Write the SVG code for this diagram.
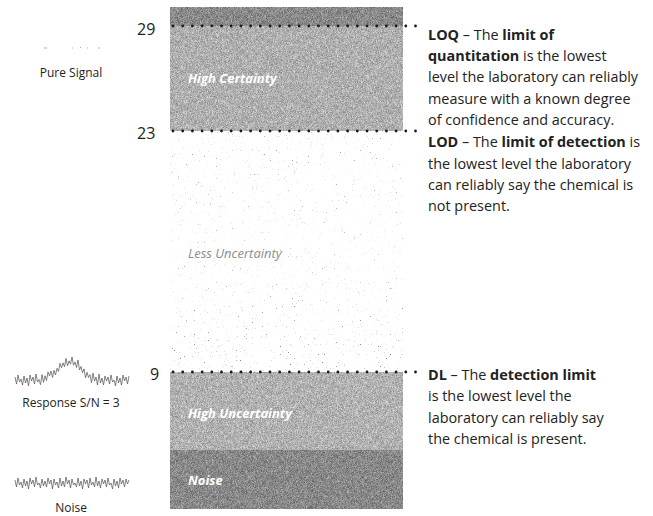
<svg xmlns="http://www.w3.org/2000/svg" width="653" height="516" viewBox="0 0 653 516">
<style>
.num{font-family:"Open Sans","Noto Sans",sans-serif;font-size:16px;fill:#222}
.lbl{font-family:"Open Sans","Noto Sans",sans-serif;font-size:12px;fill:#222}
.desc{font-family:"Open Sans","Noto Sans",sans-serif;font-size:14.4px;fill:#222}
.b{font-weight:bold}
.zone{font-family:"Open Sans","Noto Sans",sans-serif;font-size:13px;font-style:italic;font-weight:bold;fill:#fff}
.zone2{font-family:"Open Sans","Noto Sans",sans-serif;font-size:13px;font-style:italic;fill:#8c8c8c}
.dots{stroke:#1a1a1a;stroke-width:2.8;stroke-linecap:round;stroke-dasharray:0 9.7;fill:none}
.wave{fill:none;stroke:#5a5a5a;stroke-width:0.75}
</style>
<defs>
<filter id="grain" x="0" y="0" width="100%" height="100%" color-interpolation-filters="sRGB">
<feTurbulence type="fractalNoise" baseFrequency="2.2" numOctaves="1" seed="11" result="t"/>
<feColorMatrix in="t" type="matrix" values="2 0 0 0 -0.5  2 0 0 0 -0.5  2 0 0 0 -0.5  0 0 0 0 0.3" result="g"/>
<feComposite in="g" in2="SourceGraphic" operator="in" result="gm"/>
<feMerge><feMergeNode in="SourceGraphic"/><feMergeNode in="gm"/></feMerge>
</filter>
<filter id="speck" x="0" y="0" width="100%" height="100%" color-interpolation-filters="sRGB">
<feTurbulence type="fractalNoise" baseFrequency="2.5" numOctaves="1" seed="5" result="t"/>
<feColorMatrix in="t" type="matrix" values="0 0 0 0 0.5  0 0 0 0 0.5  0 0 0 0 0.5  10 0 0 0 -7.1"/>
</filter>
<linearGradient id="dens" x1="0" y1="0" x2="0" y2="1">
<stop offset="0" stop-color="#fff" stop-opacity="0.8"/>
<stop offset="0.45" stop-color="#fff" stop-opacity="0.5"/>
<stop offset="1" stop-color="#fff" stop-opacity="1"/>
</linearGradient>
<mask id="densMask" maskUnits="userSpaceOnUse" x="170" y="131" width="233" height="241">
<rect x="170" y="131" width="233" height="241" fill="url(#dens)"/>
</mask>
</defs>
<rect width="653" height="516" fill="#fff"/>

<g id="bar">
<g filter="url(#grain)">
<rect x="170" y="7" width="233" height="19" fill="#8e8e8e"/>
<rect x="170" y="26" width="233" height="105" fill="#c4c4c4"/>
<rect x="170" y="372" width="233" height="78" fill="#c6c6c6"/>
<rect x="170" y="450" width="233" height="59" fill="#8c8c8c"/>
</g>
<g mask="url(#densMask)">
<rect x="170" y="131" width="233" height="241" fill="#000" filter="url(#speck)"/>
</g>
</g>

<g id="zone-high-certainty"><text class="zone" x="188" y="83">High Certainty</text></g>
<g id="zone-less-uncertainty"><text class="zone2" x="188" y="258">Less Uncertainty</text></g>
<g id="zone-high-uncertainty"><text class="zone" x="188" y="418">High Uncertainty</text></g>
<g id="zone-noise"><text class="zone" x="188" y="485">Noise</text></g>

<g id="connectors">
<line class="dots" x1="173" y1="26" x2="417" y2="26"/>
<line class="dots" x1="173" y1="131" x2="417" y2="131"/>
<line class="dots" x1="173" y1="372" x2="417" y2="372"/>
</g>

<g id="level-29"><text class="num" x="137" y="35">29</text></g>
<g id="level-23"><text class="num" x="137" y="139">23</text></g>
<g id="level-9"><text class="num" x="150" y="380">9</text></g>

<g id="pure-signal">
<g stroke="#999" stroke-width="0.8">
<line x1="44" y1="48" x2="47" y2="48"/>
<line x1="72" y1="48" x2="73" y2="48"/>
<line x1="80" y1="47.5" x2="81" y2="47.5"/>
<line x1="87" y1="48" x2="88" y2="48"/>
<line x1="98" y1="48" x2="100" y2="48"/>
</g>
<text class="lbl" x="71" y="77" text-anchor="middle">Pure Signal</text>
</g>

<g id="response">
<polyline class="wave" points="15,377 16.5,384 18,375 19.5,382 21,379 22.5,385 24,376 25.5,383 27,378 28.5,386 30,375 31.5,381 33,377 34.5,384 36,374 37.5,382 39,379.5 40.5,384.6 42,374.6 43.5,382.4 45,375.8 46.5,380.6 48,371.8 49.5,375.9 51,371.1 52.5,377.4 54,370.3 55.5,375 57,368.3 58.5,371.5 60,363.3 61.5,367.8 63,362.9 64.5,366.8 66,358.4 67.5,365.8 69,360.8 70.5,364.2 72,357 73.5,365.2 75,362 76.5,367.5 78,360 79.5,370 81,366.5 82.5,372.8 84,368.9 85.5,377.9 87,372.3 88.5,377.5 90,374.6 91.5,382.6 93,373 94.5,381.1 96,377 97.5,385 99,374 100.5,383 102,378 103.5,385 105,376 106.5,381 108,377 109.5,384 111,375 112.5,382 114,380 115.5,386 117,376 118.5,383 120,378 121.5,385 123,375 124.5,381 126,377 127.5,384 129,376"/>
<text class="lbl" x="71" y="407" text-anchor="middle">Response S/N = 3</text>
</g>

<g id="noise">
<polyline class="wave" points="15,480 16.5,487 18,478 19.5,485 21,482 22.5,488 24,479 25.5,486 27,481 28.5,489 30,478 31.5,484 33,480 34.5,487 36,477 37.5,485 39,483 40.5,488 42,479 43.5,486 45,481 46.5,487 48,478 49.5,484 51,480 52.5,489 54,479 55.5,485 57,482 58.5,488 60,478 61.5,486 63,481 64.5,487 66,477 67.5,484 69,480 70.5,488 72,479 73.5,485 75,483 76.5,487 78,478 79.5,486 81,481 82.5,489 84,479 85.5,484 87,480 88.5,488 90,478 91.5,485 93,482 94.5,487 96,477 97.5,486 99,481 100.5,488 102,479 103.5,484 105,480 106.5,487 108,478 109.5,485 111,483 112.5,489 114,479 115.5,486 117,481 118.5,488 120,478 121.5,484 123,480 124.5,487 126,479 127.5,484 129,480"/>
<text class="lbl" x="71" y="512" text-anchor="middle">Noise</text>
</g>

<g id="loq-text">
<text class="desc" x="428" y="40"><tspan class="b">LOQ</tspan> – The <tspan class="b">limit of</tspan></text>
<text class="desc" x="428" y="61"><tspan class="b">quantitation</tspan> is the lowest</text>
<text class="desc" x="428" y="82">level the laboratory can reliably</text>
<text class="desc" x="428" y="104">measure with a known degree</text>
<text class="desc" x="428" y="125">of confidence and accuracy.</text>
</g>
<g id="lod-text">
<text class="desc" x="428" y="147"><tspan class="b">LOD</tspan> – The <tspan class="b">limit of detection</tspan> is</text>
<text class="desc" x="428" y="169">the lowest level the laboratory</text>
<text class="desc" x="428" y="190">can reliably say the chemical is</text>
<text class="desc" x="428" y="211">not present.</text>
</g>
<g id="dl-text">
<text class="desc" x="428" y="380"><tspan class="b">DL</tspan> – The <tspan class="b">detection limit</tspan></text>
<text class="desc" x="428" y="401">is the lowest level the</text>
<text class="desc" x="428" y="423">laboratory can reliably say</text>
<text class="desc" x="428" y="444">the chemical is present.</text>
</g>
</svg>
